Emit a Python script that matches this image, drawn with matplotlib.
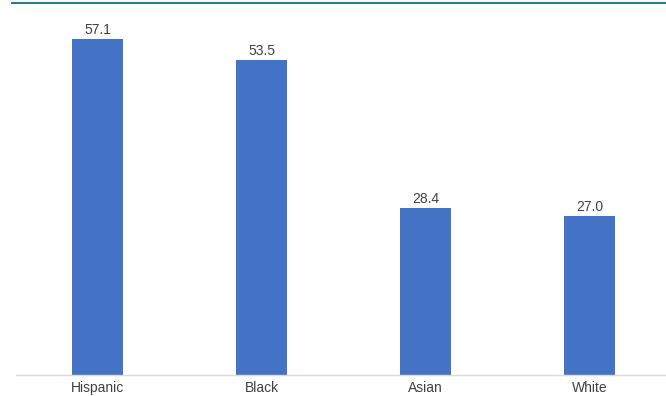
import matplotlib
matplotlib.use("Agg")
from matplotlib import pyplot as plt
from matplotlib.lines import Line2D

# rates by group
groups = ["Hispanic", "Black", "Asian", "White"]
rates = [57.1, 53.5, 28.4, 27.0]

plt.rcParams['font.family'] = ['Liberation Sans', 'DejaVu Sans']

fig = plt.figure(figsize=(6.66, 3.96), dpi=100)
ax = fig.add_axes([15.5 / 666, 1 - 375 / 396, 650.5 / 666, (375 - 22) / 396])

x = range(len(groups))
bars = ax.bar(x, rates, width=0.31, color="#4472C4")
for b, v in zip(bars, rates):
  ax.text(b.get_x() + b.get_width() / 2, v + 0.4, "%.1f" % v,
          ha="center", va="bottom", fontsize=10, color="#404040")

ax.set_xlim(-0.5, 3.466)
ax.set_ylim(0, 60)
ax.set_xticks(list(x))
ax.set_xticklabels(groups, fontsize=10, color="#404040")
ax.tick_params(axis="x", length=0, pad=4)
ax.set_yticks([])
for s in ["top", "right", "left"]:
  ax.spines[s].set_visible(False)
ax.spines["bottom"].set_color("#d9d9d9")
ax.spines["bottom"].set_linewidth(1.0)

# teal rule across the top
fig.add_artist(Line2D([12 / 666, 1], [1 - 2.5 / 396] * 2, color="#2a7f8f",
                      linewidth=1.5, transform=fig.transFigure))

fig.savefig("out.png", dpi=100)
